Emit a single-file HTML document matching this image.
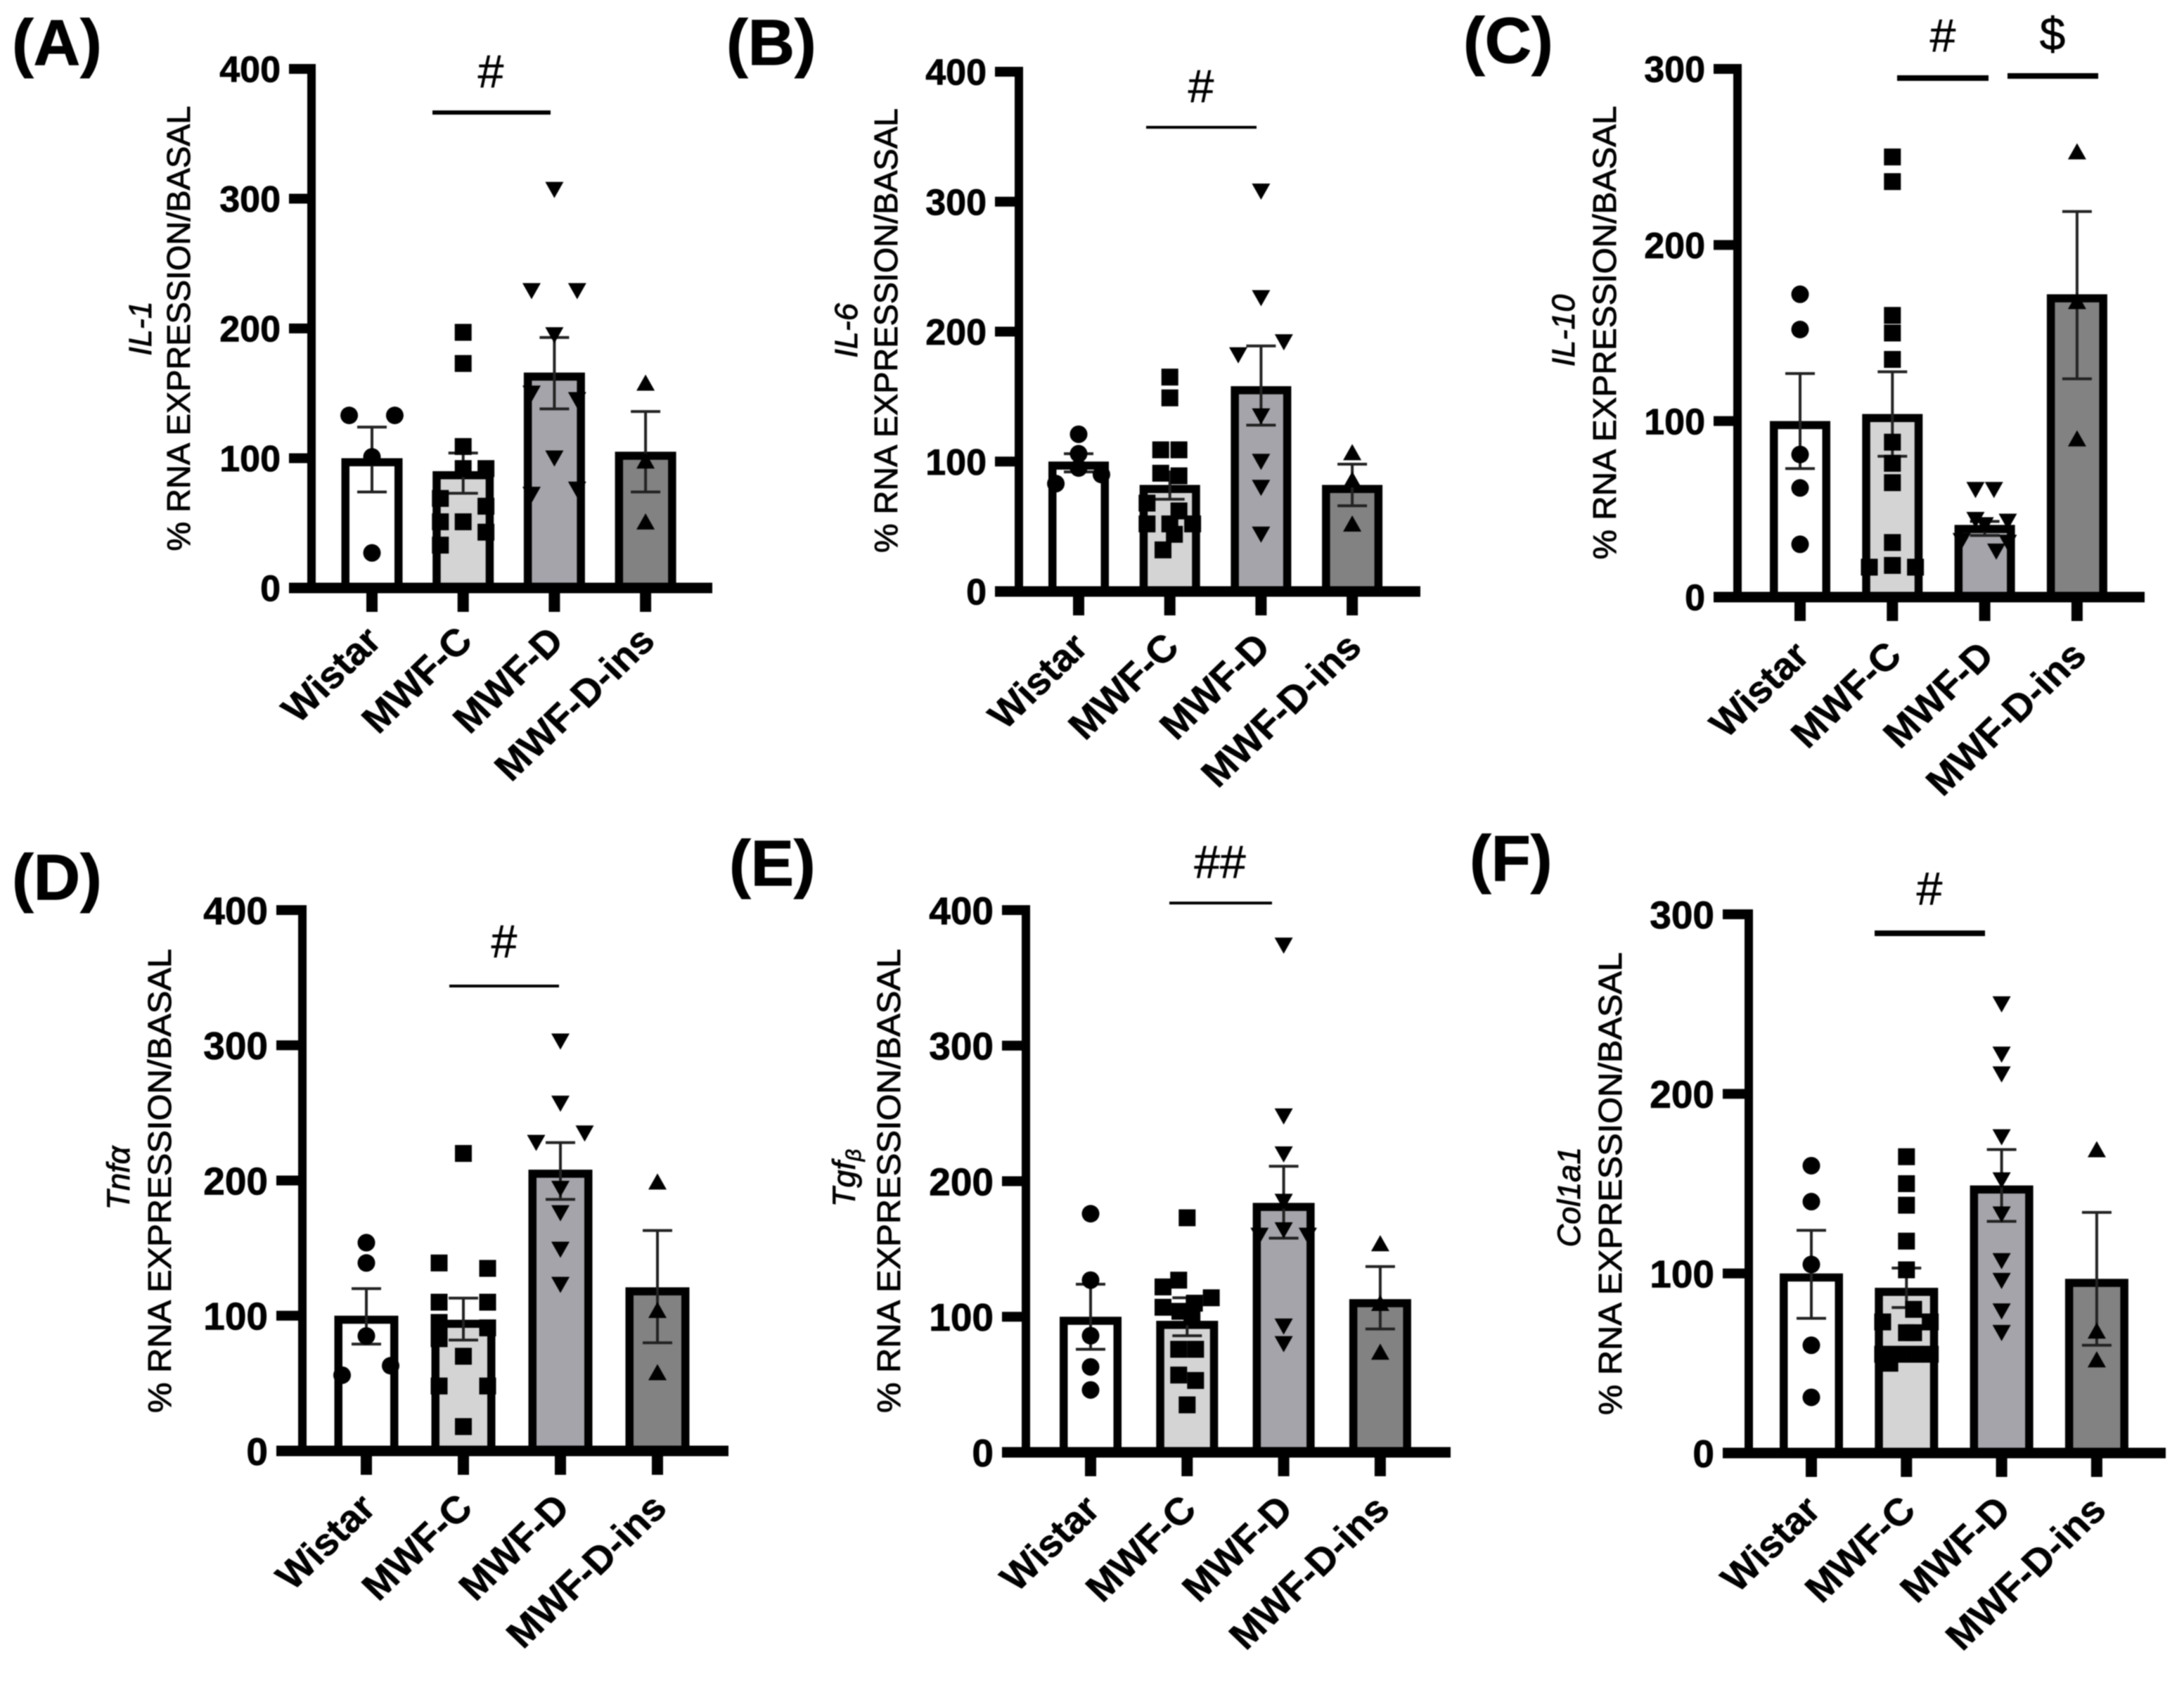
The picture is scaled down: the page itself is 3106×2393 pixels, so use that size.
<!DOCTYPE html>
<html lang="en">
<head>
<meta charset="utf-8">
<title>RNA expression panels A-F</title>
<style>
html,body{margin:0;padding:0;background:#fff;}
#figure{display:block;width:3106px;height:2393px;filter:blur(0.9px);}
text{font-family:"Liberation Sans",sans-serif;fill:#000;}
.letter{font-size:92px;font-weight:700;stroke:#000;stroke-width:1px;}
.ytitle{font-size:46px;stroke:#000;stroke-width:0.9px;text-anchor:middle;}
.gene{font-size:45px;font-style:italic;stroke:#000;stroke-width:0.9px;text-anchor:middle;}
.sig{font-size:66px;text-anchor:middle;stroke:#000;stroke-width:0.6px;}
</style>
</head>
<body>
<svg id="figure" xmlns="http://www.w3.org/2000/svg" width="3106" height="2393" viewBox="0 0 3106 2393">
<rect x="0" y="0" width="3106" height="2393" fill="#fff"/>

<text class="letter" x="17" y="92">(A)</text>
<text class="letter" x="1033" y="92">(B)</text>
<text class="letter" x="2081" y="89">(C)</text>
<text class="letter" x="17" y="1279">(D)</text>
<text class="letter" x="1037" y="1259">(E)</text>
<text class="letter" x="2090" y="1252">(F)</text>

<text class="ytitle" transform="translate(270 467) rotate(-90)" textLength="633" lengthAdjust="spacingAndGlyphs">% RNA EXPRESSION/BASAL</text>
<text class="gene" transform="translate(215 467) rotate(-90)">IL-1</text>
<text class="ytitle" transform="translate(1276 470) rotate(-90)" textLength="632" lengthAdjust="spacingAndGlyphs">% RNA EXPRESSION/BASAL</text>
<text class="gene" transform="translate(1219 470) rotate(-90)">IL-6</text>
<text class="ytitle" transform="translate(2298 473) rotate(-90)" textLength="645" lengthAdjust="spacingAndGlyphs">% RNA EXPRESSION/BASAL</text>
<text class="gene" transform="translate(2239 470) rotate(-90)">IL-10</text>
<text class="ytitle" transform="translate(243 1679) rotate(-90)" textLength="660" lengthAdjust="spacingAndGlyphs">% RNA EXPRESSION/BASAL</text>
<text class="gene" transform="translate(184 1675) rotate(-90)">Tnfα</text>
<text class="ytitle" transform="translate(1280 1679) rotate(-90)" textLength="660" lengthAdjust="spacingAndGlyphs">% RNA EXPRESSION/BASAL</text>
<text class="gene" transform="translate(1216 1675) rotate(-90)">Tgf<tspan font-size="30" dy="8">β</tspan></text>
<text class="ytitle" transform="translate(2306 1683) rotate(-90)" textLength="658" lengthAdjust="spacingAndGlyphs">% RNA EXPRESSION/BASAL</text>
<text class="gene" transform="translate(2247 1702) rotate(-90)">Col1a1</text>

<rect x="615" y="157" width="168" height="6" fill="#000"/>
<text class="sig" x="698" y="124">#</text>
<rect x="1630" y="179" width="157" height="4" fill="#000"/>
<text class="sig" x="1708" y="145">#</text>
<rect x="2698" y="107" width="130" height="8" fill="#000"/>
<text class="sig" x="2763" y="73">#</text>
<rect x="2855" y="104" width="129" height="8" fill="#000"/>
<text class="sig" x="2919" y="71">$</text>
<rect x="639" y="1400" width="156" height="4" fill="#000"/>
<text class="sig" x="717" y="1361">#</text>
<rect x="1663" y="1282" width="146" height="4" fill="#000"/>
<text class="sig" x="1735" y="1248">##</text>
<rect x="2666" y="1323" width="157" height="8" fill="#000"/>
<text class="sig" x="2744" y="1286">#</text>
</svg>

<script>
// Shared categories and tick labels
const categories = ["Wistar", "MWF-C", "MWF-D", "MWF-D-ins"];
const ticks400 = [0, 100, 200, 300, 400];
const ticks300 = [0, 100, 200, 300];

// Panel A: IL-1
const aMeans = [100, 90, 166, 105];
const aErrUpper = [124, 104, 193, 136];
const aErrLower = [74, 73, 138, 74];
const aPoints = [
  [133, 133, 101, 27],
  [197, 173, 109, 92, 92, 69, 51, 33, 63, 43, 51],
  [307, 229, 229, 195, 150, 145, 100, 72, 76],
  [158, 98, 51]
];
const aSwarm = [
  [-1, 1, 0, 0],
  [0, 0, 0, 0, 1, -1, -1, -1, 1, 1, 0],
  [0, -1, 1, 0, -1, 1, 0, -1, 1],
  [0, 0, 0]
];

// Panel B: IL-6
const bMeans = [100, 82, 158, 82];
const bErrUpper = [106, 92, 189, 98];
const bErrLower = [92, 71, 128, 66];
const bPoints = [
  [121, 106, 95, 83, 90],
  [165, 149, 109, 109, 91, 89, 68, 62, 52, 52, 44, 32, 52],
  [308, 226, 192, 182, 135, 100, 80, 44],
  [107, 86, 52]
];
const bSwarm = [
  [0, 0, 0, -1, 1],
  [0, 0, -0.4, 0.4, -0.4, 0.4, -1, 0.4, -1, 1, 0.2, -0.3, 0],
  [0, 0, 1, -1, 0, 0, 0, 0],
  [0, 0, 0]
];

// Panel C: IL-10
const cMeans = [100, 104, 41, 172];
const cErrUpper = [127, 128, 43, 219];
const cErrLower = [73, 80, 35, 124];
const cPoints = [
  [172, 152, 81, 62, 30],
  [250, 236, 160, 150, 135, 88, 76, 65, 31, 18, 17, 17],
  [61, 61, 44, 43, 41, 26, 32, 31],
  [253, 168, 90]
];
const cSwarm = [
  [0, 0, 0, 0, 0],
  [0, 0, 0, 0, 0, 0, 0, 0, 0, 0, -1, 1],
  [-0.4, 0.4, -0.4, 1, 0, 0.5, -1, 1],
  [0, 0, 0]
];

// Panel D: Tnf-alpha
const dMeans = [100, 97, 208, 121];
const dErrUpper = [120, 113, 228, 163];
const dErrLower = [79, 82, 186, 80];
const dPoints = [
  [154, 139, 85, 56, 63],
  [220, 139, 135, 110, 110, 95, 91, 83, 70, 48, 48, 18],
  [303, 257, 235, 228, 194, 176, 149, 123],
  [199, 104, 58]
];
const dSwarm = [
  [0, 0, 0, -1, 1],
  [0, -1, 1, -1, 1, -1, 1, -1, 0, -1, 1, 0],
  [0, 0, 1, -1, 0, 0, 0, 0],
  [0, 0, 0]
];

// Panel E: Tgf-beta
const eMeans = [100, 97, 184, 113];
const eErrUpper = [124, 114, 211, 137];
const eErrLower = [76, 86, 158, 91];
const ePoints = [
  [176, 127, 86, 63, 46],
  [173, 127, 122, 114, 107, 110, 104, 100, 76, 76, 57, 53, 35],
  [374, 248, 220, 185, 164, 160, 160, 93, 80],
  [154, 110, 74]
];
const eSwarm = [
  [0, 0, 0, 0, 0],
  [0, -0.35, -1, 1, -1, 0.3, -0.3, 0.2, -0.35, 0.35, -0.35, 0.35, 0],
  [0, 0, 0, 0, 0, -1, 1, 0, 0],
  [0, 0, 0]
];

// Panel F: Col1a1
const fMeans = [100, 92, 149, 97];
const fErrUpper = [124, 103, 169, 134];
const fErrLower = [75, 81, 129, 60];
const fPoints = [
  [160, 140, 105, 60, 31],
  [165, 150, 138, 118, 102, 80, 73, 73, 67, 67, 55, 55, 55, 55, 50],
  [250, 222, 211, 176, 152, 133, 107, 96, 79, 67],
  [169, 68, 52]
];
const fSwarm = [
  [0, 0, 0, 0, 0],
  [0, 0, 0, 0, 0, 0.3, -1, 1, 0, 0.3, -1, -0.35, 0.35, 1, -0.7],
  [0, 0, 0, 0, 0, 0, 0, 0, 0, 0],
  [0, 0, 0]
];

// Panel frames (layout only)
const panels = [
  {id: "a", means: aMeans, up: aErrUpper, lo: aErrLower, pts: aPoints, swarm: aSwarm, ticks: ticks400,
   axisX: 443, top: 98, base: 836, left: 411, right: 1013, first: 529, step: 129.7, barW: 87, font: 52, labelDrop: 78},
  {id: "b", means: bMeans, up: bErrUpper, lo: bErrLower, pts: bPoints, swarm: bSwarm, ticks: ticks400,
   axisX: 1449, top: 102, base: 841, left: 1415, right: 2020, first: 1534, step: 129.7, barW: 86, font: 52, labelDrop: 82},
  {id: "c", means: cMeans, up: cErrUpper, lo: cErrLower, pts: cPoints, swarm: cSwarm, ticks: ticks300,
   axisX: 2471, top: 98, base: 849, left: 2437, right: 3050, first: 2560, step: 131.3, barW: 86, font: 52, labelDrop: 86},
  {id: "d", means: dMeans, up: dErrUpper, lo: dErrLower, pts: dPoints, swarm: dSwarm, ticks: ticks400,
   axisX: 430, top: 1294, base: 2063, left: 393, right: 1036, first: 521, step: 138, barW: 91, font: 55, labelDrop: 84},
  {id: "e", means: eMeans, up: eErrUpper, lo: eErrLower, pts: ePoints, swarm: eSwarm, ticks: ticks400,
   axisX: 1459, top: 1294, base: 2065, left: 1425, right: 2063, first: 1551, step: 137.3, barW: 88, font: 55, labelDrop: 84},
  {id: "f", means: fMeans, up: fErrUpper, lo: fErrLower, pts: fPoints, swarm: fSwarm, ticks: ticks300,
   axisX: 2487, top: 1300, base: 2066, left: 2450, right: 3080, first: 2576, step: 135.3, barW: 90, font: 55, labelDrop: 84}
];
const barFills = ["#ffffff", "#d4d4d4", "#a4a4aa", "#828282"];

const svgNS = "http://www.w3.org/2000/svg";
const figure = document.getElementById("figure");

function make(tag, attrs, parent) {
  const node = document.createElementNS(svgNS, tag);
  for (const key in attrs) node.setAttribute(key, attrs[key]);
  parent.appendChild(node);
  return node;
}

function drawMarker(group, kind, x, y) {
  if (kind === 0) return make("circle", {cx: x, cy: y, r: 12.5, fill: "#000"}, group);
  if (kind === 1) return make("rect", {x: x - 12, y: y - 12, width: 24, height: 24, fill: "#000"}, group);
  if (kind === 2) return make("polygon", {points: [x - 13, y - 11, x + 13, y - 11, x, y + 12].join(","), fill: "#000"}, group);
  return make("polygon", {points: [x - 13, y + 11, x + 13, y + 11, x, y - 12].join(","), fill: "#000"}, group);
}

panels.forEach(function (p) {
  const maxTick = p.ticks[p.ticks.length - 1];
  const yScale = function (v) { return p.base + (p.top - p.base) * v / maxTick; };
  const xScale = function (i) { return p.first + p.step * i; };
  const stroke = 11.5;

  const panel = make("g", {}, figure);
  
  

  categories.forEach(function (cat, i) {
    const slug = cat.toLowerCase();
    const cx = xScale(i);
    const barTop = yScale(p.means[i]);
    const bar = make("rect", {
      x: cx - p.barW / 2 + stroke / 2, y: barTop + stroke / 2,
      width: p.barW - stroke, height: p.base - barTop - stroke / 2,
      fill: barFills[i], stroke: "#000", "stroke-width": stroke
    }, panel);
    
    

    const err = make("path", {
      d: "M" + cx + " " + yScale(p.up[i]) + "V" + yScale(p.lo[i]) +
         "M" + (cx - 21) + " " + yScale(p.up[i]) + "H" + (cx + 21) +
         "M" + (cx - 21) + " " + yScale(p.lo[i]) + "H" + (cx + 21),
      fill: "none", stroke: "#222", "stroke-width": 4
    }, panel);
    
    

    p.pts[i].forEach(function (value, k) {
      const dot = drawMarker(panel, i, cx + p.swarm[i][k] * p.step / 4, yScale(value));
      
      
    });

    const tick = make("rect", {x: cx - 8, y: p.base, width: 16, height: 34, fill: "#000"}, panel);
    
    

    const label = make("text", {
      transform: "translate(" + (cx + 16) + " " + (p.base + p.labelDrop) + ") scale(1.04 1) rotate(-45)",
      "text-anchor": "end", "font-size": 54, "font-weight": 700,
      stroke: "#000", "stroke-width": 0.6
    }, panel);
    label.textContent = cat;
    
    
  });

  const yAxis = make("rect", {x: p.axisX - 6, y: p.top - 7, width: 12, height: p.base - p.top + 14, fill: "#000"}, panel);
  
  

  const xAxis = make("rect", {x: p.left, y: p.base - 7.5, width: p.right - p.left, height: 15, fill: "#000"}, panel);
  
  

  p.ticks.forEach(function (v) {
    const y = yScale(v);
    const tick = make("rect", {x: p.left, y: y - 7, width: p.axisX - p.left, height: 14, fill: "#000"}, panel);
    
    

    const label = make("text", {
      x: p.left - 12, y: y + p.font * 0.36, "text-anchor": "end",
      "font-size": p.font, "font-weight": 700, stroke: "#000", "stroke-width": 0.8
    }, panel);
    label.textContent = String(v);
    
    
  });
});
</script>
</body>
</html>
